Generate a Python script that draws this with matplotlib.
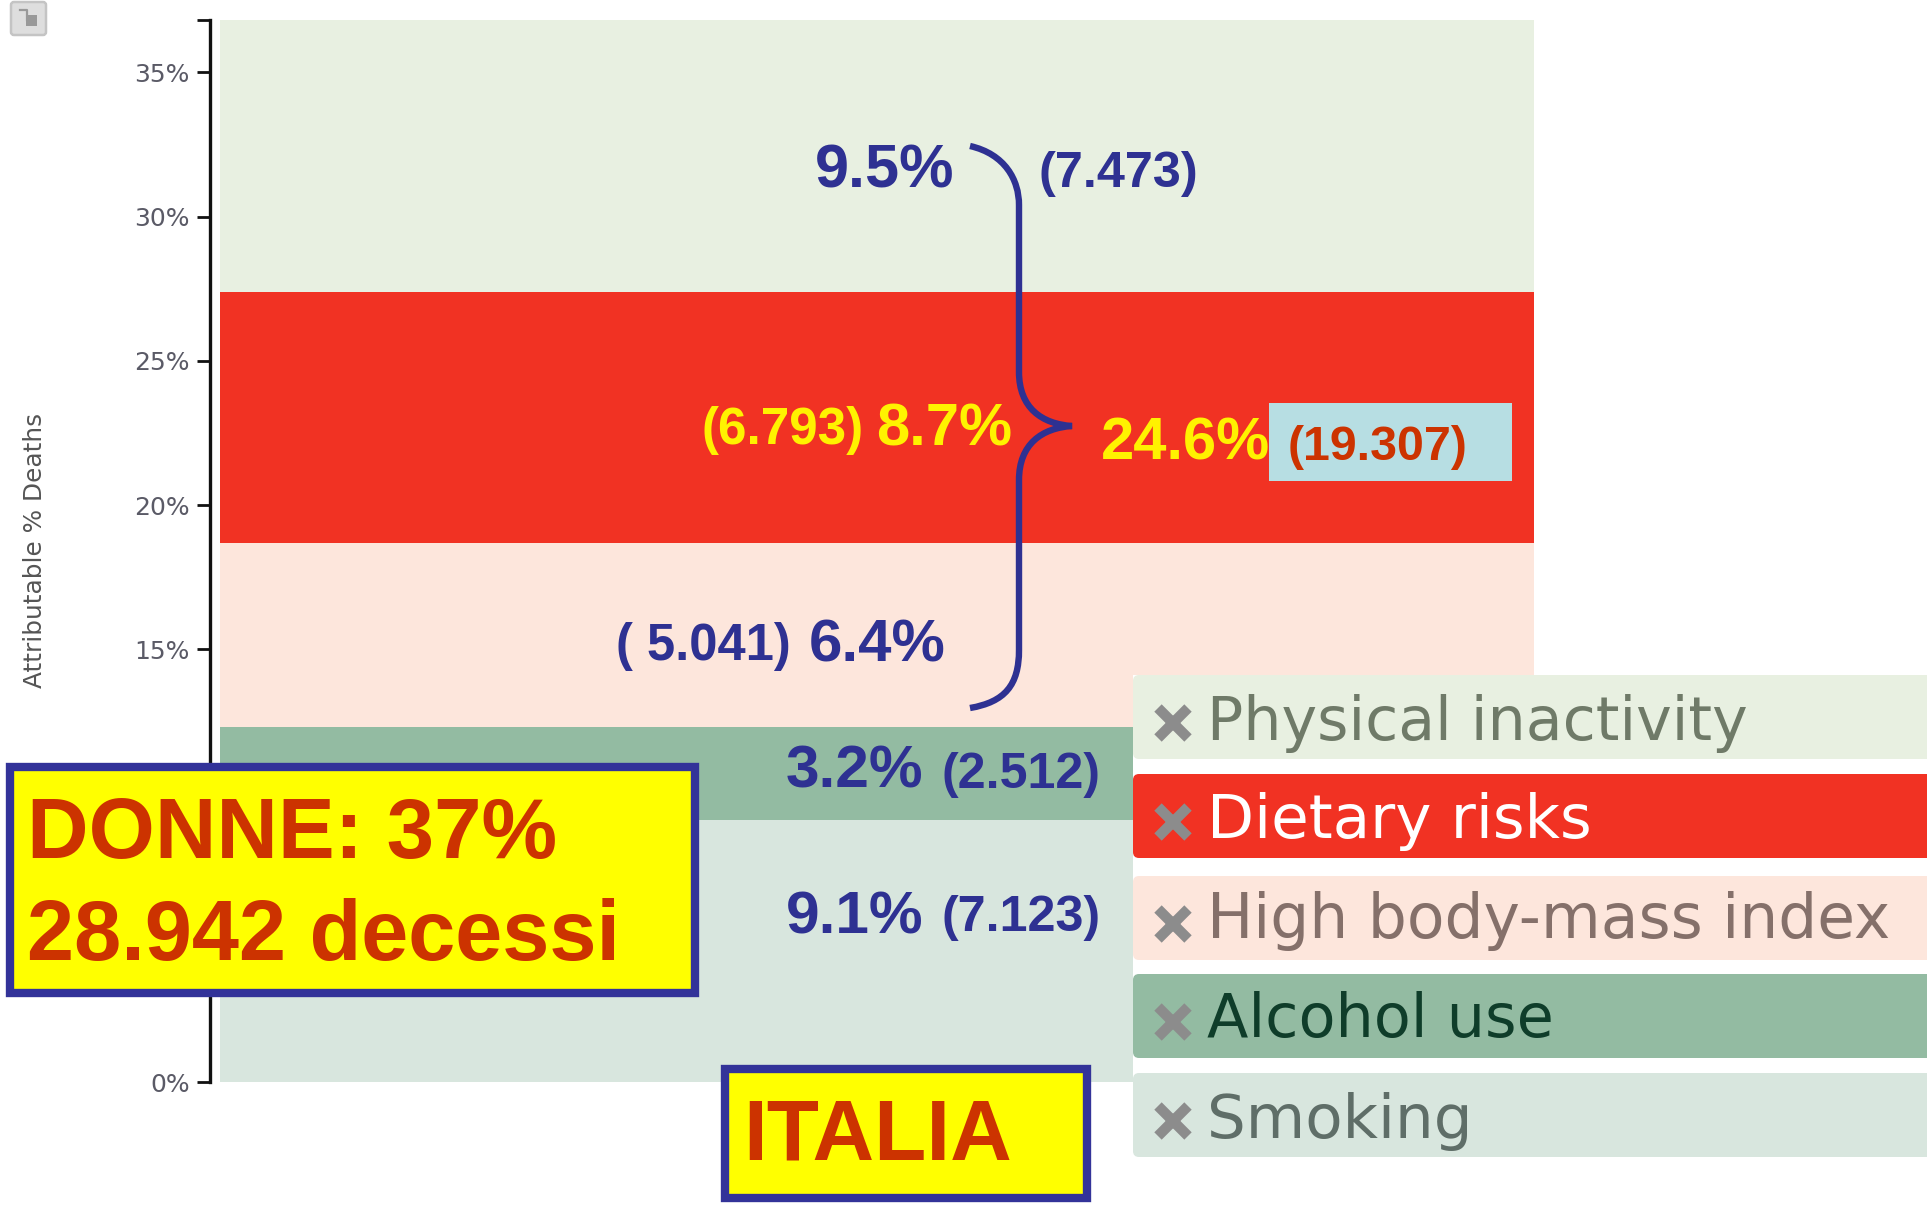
import matplotlib
matplotlib.use('Agg')
import matplotlib.pyplot as plt
from matplotlib.patches import Rectangle, FancyBboxPatch, PathPatch
from matplotlib.path import Path

W, H = 1933, 1207

# data, bottom to top of the stack
risks = ['Smoking', 'Alcohol use', 'High body-mass index', 'Dietary risks', 'Physical inactivity']
shares = [9.1, 3.2, 6.4, 8.7, 9.5]
band_colors = ['#D8E6DE', '#93BBA2', '#FDE6DC', '#F13223', '#E8F0E1']
legend_text_colors = ['#5F6E68', '#0F3D2A', '#85706A', '#FFFFFF', '#6F7A68']
ytick_values = [0, 5, 10, 15, 20, 25, 30, 35]
# 5% and 10% are hidden behind the yellow box in the picture
ytick_labels = ['0%', '', '', '15%', '20%', '25%', '30%', '35%']
y_top = 36.82

BLUE = '#2E3192'
YELLOW = '#FFF200'
ORANGE = '#CC3300'
BOX_EDGE = '#333399'

fig = plt.figure(figsize=(W / 100, H / 100), dpi=100, facecolor='white')

# chart axes, left edge is the axis line
ax = fig.add_axes([210 / W, 1 - 1082 / H, 1324 / W, (1082 - 20) / H])
bottom = 0
for val, col in zip(shares, band_colors):
    ax.bar(0, val, bottom=bottom, width=1, color=col, linewidth=0)
    bottom += val
ax.set_xlim(-0.5077, 0.5)
ax.set_ylim(0, y_top)
for s in ['top', 'right', 'bottom']:
    ax.spines[s].set_visible(False)
ax.spines['left'].set_linewidth(2.4)
ax.spines['left'].set_color('#111111')
ax.set_xticks([])
ax.set_yticks(ytick_values + [y_top])
ax.set_yticklabels(ytick_labels + [''], fontsize=18, color='#5A5A66')
ax.tick_params(axis='y', length=9.5, width=2, pad=5, color='#111111')

# everything drawn on top uses pixel coordinates of the picture
ov = fig.add_axes([0, 0, 1, 1], facecolor='none')
ov.set_xlim(0, W)
ov.set_ylim(H, 0)
ov.axis('off')

ov.text(35, 550, 'Attributable % Deaths', rotation=90, fontsize=17.8, color='#555555',
        ha='center', va='center')


def label(x, y, s, size, color, z=3):
    ov.text(x, y, s, fontsize=size, color=color, family='Liberation Sans', fontweight='bold',
            ha='left', va='baseline', zorder=z)


# values on the bands
label(815, 188, '9.5%', 44, BLUE)
label(1039, 187, '(7.473)', 36.3, BLUE)
label(702, 444, '(6.793)', 36.8, YELLOW)
label(876, 445, '8.7%', 43, YELLOW)
label(1101, 460, '24.6%', 43, YELLOW)
label(616, 660, '( 5.041)', 36.5, BLUE)
label(809, 661, '6.4%', 43.2, BLUE)
label(786, 788, '3.2%', 43.5, BLUE)
label(942, 788, '(2.512)', 36.2, BLUE)
label(786, 933, '9.1%', 43.5, BLUE)
label(942, 931, '(7.123)', 36.2, BLUE)

# light blue box with the total
ov.add_patch(Rectangle((1269, 403), 243, 77.5, facecolor='#B7DEE3', edgecolor='none', zorder=4))
label(1288, 460, '(19.307)', 34.8, ORANGE, z=5)

# curly brace
verts = [(970, 146), (1005, 154), (1019, 180), (1019, 205),
         (1019, 372),
         (1019, 408), (1042, 424), (1072, 426),
         (1042, 428), (1019, 444), (1019, 480),
         (1019, 650),
         (1019, 685), (1005, 702), (970, 708)]
codes = [Path.MOVETO, Path.CURVE4, Path.CURVE4, Path.CURVE4,
         Path.LINETO,
         Path.CURVE4, Path.CURVE4, Path.CURVE4,
         Path.CURVE4, Path.CURVE4, Path.CURVE4,
         Path.LINETO,
         Path.CURVE4, Path.CURVE4, Path.CURVE4]
ov.add_patch(PathPatch(Path(verts, codes), facecolor='none', edgecolor=BLUE, linewidth=4.6,
                       capstyle='butt', zorder=3))

# yellow boxes
ov.add_patch(Rectangle((10, 767), 685, 226, facecolor='#FFFF00', edgecolor=BOX_EDGE, linewidth=6, zorder=6))
label(27, 858, 'DONNE: 37%', 61.3, ORANGE, z=7)
label(27, 960, '28.942 decessi', 61, ORANGE, z=7)
ov.add_patch(Rectangle((725, 1069), 362, 129, facecolor='#FFFF00', edgecolor=BOX_EDGE, linewidth=6, zorder=6))
label(743, 1159, 'ITALIA', 61.5, ORANGE, z=7)

# legend sits on a white panel that hides the bands behind it
ov.add_patch(Rectangle((1133, 675), 800, 532, facecolor='white', edgecolor='none', zorder=7.5))

row_top = [675, 774, 876, 974, 1073]
row_base = [740, 838, 938, 1037, 1138]
row_size = [43.4, 44, 44.3, 43.6, 44]
for i, name in enumerate(risks[::-1]):
    col = band_colors[::-1][i]
    y0 = row_top[i]
    ov.add_patch(FancyBboxPatch((1139, y0 + 6), 20, 72, boxstyle='round,pad=6', facecolor=col,
                                edgecolor='none', zorder=8))
    ov.add_patch(Rectangle((1150, y0), 777, 84, facecolor=col, edgecolor='none', zorder=8))
    ov.plot([1173], [y0 + 48], marker='x', ms=21, mew=7.5, color='#8C8C8C', zorder=9)
    ov.text(1207, row_base[i], name, fontsize=row_size[i], color=legend_text_colors[::-1][i],
            ha='left', va='baseline', zorder=9)

# small button in the corner
ov.add_patch(FancyBboxPatch((14, 5), 29, 27, boxstyle='round,pad=3', facecolor='#DEDEDE',
                            edgecolor='#C4C4C4', linewidth=1.8))
ov.add_patch(Rectangle((26, 15), 11, 11, facecolor='#999999', edgecolor='none'))
ov.plot([20, 27, 27], [10, 10, 20], color='#999999', lw=1.6)

fig.savefig('out.png', dpi=100)
